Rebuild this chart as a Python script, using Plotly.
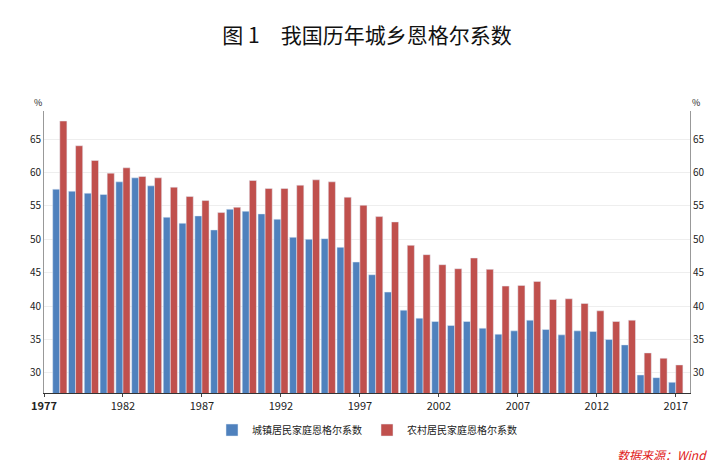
import plotly.graph_objects as go

years = list(range(1978, 2018))
urban = [57.5,57.2,56.9,56.7,58.6,59.2,58.0,53.3,52.4,53.5,51.4,54.5,54.2,53.8,53.0,50.3,50.0,50.1,48.8,46.6,44.7,42.1,39.4,38.2,37.7,37.1,37.7,36.7,35.8,36.3,37.9,36.5,35.7,36.3,36.2,35.0,34.2,29.7,29.3,28.6]
rural = [67.7,64.0,61.8,59.9,60.7,59.4,59.2,57.8,56.4,55.8,54.0,54.8,58.8,57.6,57.6,58.1,58.9,58.6,56.3,55.1,53.4,52.6,49.1,47.7,46.2,45.6,47.2,45.5,43.0,43.1,43.7,41.0,41.1,40.4,39.3,37.7,37.9,33.0,32.2,31.2]
xticks = [1977,1982,1987,1992,1997,2002,2007,2012,2017]
yticks = [30,35,40,45,50,55,60,65]
yr = [27.0, 69.2]

fig = go.Figure()
fig.add_bar(x=years, y=urban, name="城镇居民家庭恩格尔系数", marker_color="#4F81BD")
fig.add_bar(x=years, y=rural, name="农村居民家庭恩格尔系数", marker_color="#C0504D")
fig.add_scatter(x=[years[0]], y=[yr[0]-5], yaxis="y2", showlegend=False, hoverinfo="skip")
font = "Noto Sans CJK SC"
fig.update_layout(
    width=718, height=460, barmode="group", bargap=0.1, bargroupgap=0.0,
    plot_bgcolor="white", paper_bgcolor="white",
    font=dict(family=font, size=11, color="#222"),
    margin=dict(l=36, r=36, t=103, b=75),
    title=dict(text="图 1　我国历年城乡恩格尔系数", x=0.5, xanchor="center", y=0.955, font=dict(size=21, color="#111")),
    xaxis=dict(range=[1977, 2017.9], tickvals=xticks, ticktext=["<b>1977</b>"]+[str(v) for v in xticks[1:]],
               showline=True, linecolor="#333", ticks="outside", ticklen=3, showgrid=False),
    yaxis=dict(range=yr, tickvals=yticks, showgrid=True, gridcolor="#eeeeee", showline=True, linecolor="#999", tickfont=dict(size=10)),
    yaxis2=dict(range=yr, tickvals=yticks, overlaying="y", side="right", showgrid=False, showline=True, linecolor="#999", tickfont=dict(size=10)),
    legend=dict(orientation="h", x=0.5, xanchor="center", y=-0.08, yanchor="top", font=dict(size=10)),
    annotations=[
        dict(text="%", xref="paper", yref="paper", x=0, y=1.0, xanchor="right", yanchor="bottom", showarrow=False, font=dict(size=9)),
        dict(text="%", xref="paper", yref="paper", x=1, y=1.0, xanchor="left", yanchor="bottom", showarrow=False, font=dict(size=9)),
        dict(text="<i>数据来源：Wind</i>", xref="paper", yref="paper", x=1.03, y=-0.18, xanchor="right", yanchor="top", showarrow=False, font=dict(size=12, color="#E02020")),
    ],
)
fig.write_html("out.html")
